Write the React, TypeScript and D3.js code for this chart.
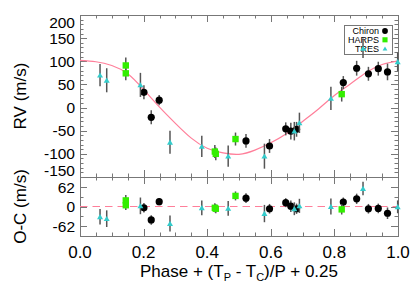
import * as d3 from 'd3'
import { useEffect, useRef } from 'react'

// Chiron
const chironPhase = [0.201, 0.224, 0.249, 0.522, 0.596, 0.647, 0.663, 0.681, 0.828, 0.870, 0.907, 0.938, 0.967]
const chironRV = [33, -21, 16, -72, -83, -46, -51, -47, 54, 85, 73, 84, 77]
const chironErr = [15, 15, 11, 15, 15, 14, 18, 16, 14, 16, 15, 15, 18]
const chironRes = [-4, -42, 15, 26, -7, 12, 1, -7, 14, 24, -7, -6, -21]

// HARPS
const harpsPhase = [0.144, 0.144, 0.424, 0.427, 0.489, 0.823]
const harpsRV = [91, 74, -95, -100, -68, 29]
const harpsErr = [17, 15, 14, 14, 14, 16]
const harpsRes = [19, 4, -4, -7, 33, -9]

// TRES
const tresPhase = [0.063, 0.084, 0.190, 0.283, 0.383, 0.466, 0.580, 0.674, 0.690, 0.789, 0.890, 0.999]
const tresRV = [70, 59, 49, -75, -84, -105, -105, -51, -33, 20, 128, 99]
const tresErr = [24, 26, 26, 25, 23, 23, 27, 20, 22, 25, 21, 20]
const tresRes = [-32, -38, 2, -53, -4, -6, -22, -7, 2, 0, 56, -1]

// model curve
const modelPhase = [0, 0.05, 0.1, 0.15, 0.2, 0.25, 0.3, 0.35, 0.4, 0.45, 0.5, 0.55, 0.6, 0.65, 0.7, 0.75, 0.8, 0.85, 0.9, 0.95, 1.0]
const modelRV = [102, 99, 91, 73, 39, 1, -34, -66, -88, -98, -101, -92, -76, -56, -30, -3, 26, 51, 76, 93, 101]

const xTicks = [0, 0.2, 0.4, 0.6, 0.8, 1.0]
const rvTicks = [200, 150, 100, 50, 0, -50, -100, -150]
const resTicks = [62, 0, -62]
const legendNames = ['Chiron', 'HARPS', 'TRES']

const FONT = '"Liberation Sans", Arial, Helvetica, sans-serif'

export default function App() {
    const svgRef = useRef<SVGSVGElement>(null)

    useEffect(() => {
        makeChart(svgRef)
    }, [])

    function makeChart(svgRef: React.RefObject<SVGSVGElement>) {
        const width = 416
        const height = 292
        const svg = d3.select(svgRef.current).attr('width', width).attr('height', height)
        svg.selectAll('*').remove()

        const left = 80, right = 398
        const top = 15, mid = 177, bottom = 236

        const x = d3.scaleLinear().domain([0, 1]).range([left, right])
        const y = d3.scaleLinear().domain([-150, 200]).range([mid, top])
        const yr = d3.scaleLinear().domain([-92, 92]).range([bottom, mid])

        const frame = '#777'

        function xTickMarks(y0: number, y1: number) {
            const g = svg.append('g').attr('stroke', frame).attr('stroke-width', 1)
            const minor = d3.range(0, 1.0001, 0.05)
            minor.forEach(v => {
                const major = xTicks.some(t => Math.abs(t - v) < 1e-6)
                const len = major ? 7 : 3.5
                const xp = Math.round(x(v)) + 0.5
                g.append('line').attr('x1', xp).attr('x2', xp).attr('y1', y0).attr('y2', y0 + len)
                g.append('line').attr('x1', xp).attr('x2', xp).attr('y1', y1).attr('y2', y1 - len)
            })
        }
        function yTickMarks(scale: any, majors: number[], step: number, lo: number, hi: number) {
            const g = svg.append('g').attr('stroke', frame).attr('stroke-width', 1)
            for (let v = lo; v <= hi + 1e-6; v += step) {
                const major = majors.some(t => Math.abs(t - v) < 1e-6)
                const len = major ? 7 : 3.5
                const yp = Math.round(scale(v)) + 0.5
                g.append('line').attr('x1', left).attr('x2', left + len).attr('y1', yp).attr('y2', yp)
                g.append('line').attr('x1', right).attr('x2', right - len).attr('y1', yp).attr('y2', yp)
            }
        }

        xTickMarks(top, mid)
        xTickMarks(mid, bottom)
        yTickMarks(y, rvTicks, 10, -150, 200)
        yTickMarks(yr, resTicks, 31, -93, 93)

        svg.append('rect').attr('x', left + 0.5).attr('y', top + 0.5).attr('width', right - left).attr('height', mid - top)
            .attr('fill', 'none').attr('stroke', frame)
        svg.append('rect').attr('x', left + 0.5).attr('y', mid + 0.5).attr('width', right - left).attr('height', bottom - mid)
            .attr('fill', 'none').attr('stroke', frame)

        // tick labels
        const labels = svg.append('g').attr('font-family', FONT).attr('fill', '#000')
        rvTicks.forEach(v => {
            const yp = Math.max(22, Math.min(170, y(v)))
            labels.append('text').attr('x', 75).attr('y', yp).attr('dy', '0.36em')
                .attr('text-anchor', 'end').attr('font-size', 15.5).text(v)
        })
        resTicks.forEach(v => {
            labels.append('text').attr('x', 75).attr('y', yr(v) + (v > 0 ? 1 : 0)).attr('dy', '0.36em')
                .attr('text-anchor', 'end').attr('font-size', 15.5).text(v)
        })
        xTicks.forEach(v => {
            labels.append('text').attr('x', x(v)).attr('y', 258)
                .attr('text-anchor', 'middle').attr('font-size', 17).text(v.toFixed(1))
        })

        // axis titles
        labels.append('text').attr('transform', `translate(26,${(top + mid) / 2}) rotate(-90)`)
            .attr('text-anchor', 'middle').attr('font-size', 17).text('RV (m/s)')
        labels.append('text').attr('transform', `translate(26,${(mid + bottom) / 2}) rotate(-90)`)
            .attr('text-anchor', 'middle').attr('font-size', 17).text('O-C (m/s)')
        const xt = labels.append('text').attr('x', 239).attr('y', 277)
            .attr('text-anchor', 'middle').attr('font-size', 17)
        xt.append('tspan').text('Phase + (T')
        xt.append('tspan').attr('font-size', 11).attr('dy', 4).text('P')
        xt.append('tspan').attr('dy', -4).text(' - T')
        xt.append('tspan').attr('font-size', 11).attr('dy', 4).text('C')
        xt.append('tspan').attr('dy', -4).text(')/P + 0.25')

        // model curve
        const line = d3.line<number>()
            .x((_, i) => x(modelPhase[i]))
            .y(d => y(d))
            .curve(d3.curveNatural)
        svg.append('path').datum(modelRV).attr('d', line)
            .attr('fill', 'none').attr('stroke', '#ff7f9a').attr('stroke-width', 1.2)

        svg.append('line').attr('x1', left).attr('x2', right).attr('y1', yr(0)).attr('y2', yr(0))
            .attr('stroke', '#ff7f9a').attr('stroke-width', 1.2).attr('stroke-dasharray', '7.5,5')

        function drawMarker(g: any, kind: number, cx: number, cy: number, s = 1) {
            if (kind === 0) {
                g.append('circle').attr('cx', cx).attr('cy', cy).attr('r', 3.6 * s).attr('fill', '#000')
            } else if (kind === 1) {
                const h = 3.2 * s
                g.append('rect').attr('x', cx - h).attr('y', cy - h).attr('width', 2 * h).attr('height', 2 * h).attr('fill', '#33ee00')
            } else {
                const h = 3.0 * s
                g.append('path').attr('d', `M${cx - h},${cy + h * 0.8}L${cx + h},${cy + h * 0.8}L${cx},${cy - h * 0.9}Z`).attr('fill', '#33cccc')
            }
        }

        // legend
        const lg = svg.append('g')
        lg.append('rect').attr('x', 344.5).attr('y', 25.5).attr('width', 48).attr('height', 29)
            .attr('fill', '#fff').attr('stroke', '#777')
        legendNames.forEach((n, i) => {
            const ly = 31 + i * 8.8
            lg.append('text').attr('x', 379).attr('y', ly).attr('dy', '0.34em')
                .attr('text-anchor', 'end').attr('font-family', FONT).attr('font-size', 9).text(n)
            drawMarker(lg, i, 385, ly, 0.8)
        })

        const sets = [
            { kind: 0, phase: chironPhase, rv: chironRV, err: chironErr, res: chironRes },
            { kind: 1, phase: harpsPhase, rv: harpsRV, err: harpsErr, res: harpsRes },
            { kind: 2, phase: tresPhase, rv: tresRV, err: tresErr, res: tresRes },
        ]

        sets.forEach(s => {
            const g = svg.append('g')
            s.phase.forEach((p, i) => {
                const xp = x(p)
                g.append('line').attr('x1', xp).attr('x2', xp)
                    .attr('y1', y(s.rv[i] - s.err[i])).attr('y2', y(s.rv[i] + s.err[i]))
                    .attr('stroke', '#555').attr('stroke-width', 1.5)
                g.append('line').attr('x1', xp).attr('x2', xp)
                    .attr('y1', yr(s.res[i] - s.err[i])).attr('y2', yr(s.res[i] + s.err[i]))
                    .attr('stroke', '#555').attr('stroke-width', 1.5)
            })
            s.phase.forEach((p, i) => {
                drawMarker(g, s.kind, x(p), y(s.rv[i]))
                drawMarker(g, s.kind, x(p), yr(s.res[i]))
            })
        })
    }

    return (
        <svg ref={svgRef} style={{ position: 'absolute', left: 0, top: 0, background: '#fff' }}></svg>
    )
}
